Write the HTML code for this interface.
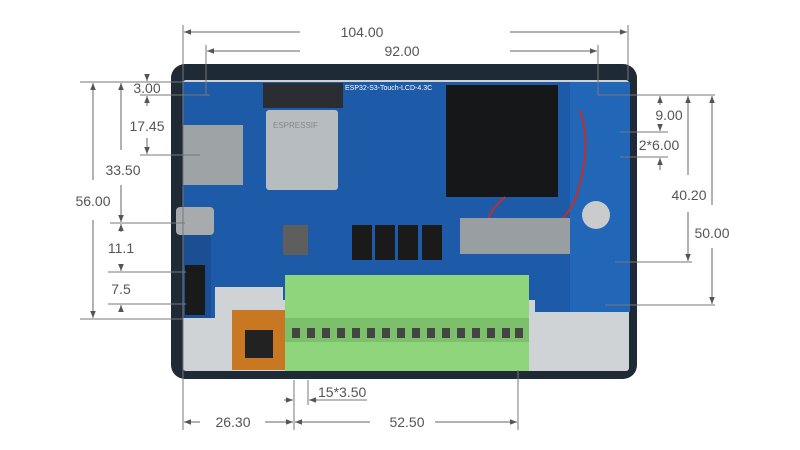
<!DOCTYPE html>
<html><head><style>
html,body{margin:0;padding:0;background:#fff;}
svg{display:block}
text{font-family:"Liberation Sans",sans-serif;fill:#555;font-size:14px}
</style></head><body>
<svg width="800" height="450" viewBox="0 0 800 450">
<defs>
<marker id="a" viewBox="0 0 10 10" refX="10" refY="5" markerWidth="7" markerHeight="7" orient="auto-start-reverse"><path d="M0,1 L10,5 L0,9z" fill="#555"/></marker>
</defs>
<rect x="171" y="64" width="466" height="315" rx="14" fill="#1e2a35"/>
<rect x="183" y="80" width="446" height="291" rx="3" fill="#cfd3d6"/>
<path d="M183,82 H630 V312 H535 V300 H283 V287 H215 V318 H183Z" fill="#1d5aa8"/>
<rect x="183" y="228" width="28" height="90" fill="#1a4f93"/>
<rect x="570" y="82" width="60" height="230" fill="#2266b8"/>
<rect x="263" y="83" width="80" height="25" fill="#2a2e33"/>
<rect x="266" y="110" width="72" height="80" rx="3" fill="#b6bcbf"/>
<text x="273" y="128" style="font-size:8px;fill:#888">ESPRESSIF</text>
<rect x="446" y="85" width="112" height="112" fill="#151719"/>
<path d="M505,197 C490,210 480,225 500,235 C530,250 560,230 575,200 C585,170 590,140 580,110" stroke="#c0302a" stroke-width="2" fill="none"/>
<rect x="183" y="125" width="60" height="60" fill="#9ea3a6"/>
<rect x="176" y="207" width="38" height="28" rx="4" fill="#a7abad"/>
<rect x="352" y="225" width="20" height="35" fill="#1a1a1a"/>
<rect x="375" y="225" width="20" height="35" fill="#1a1a1a"/>
<rect x="398" y="225" width="20" height="35" fill="#1a1a1a"/>
<rect x="422" y="225" width="20" height="35" fill="#1a1a1a"/>
<rect x="283" y="225" width="25" height="30" fill="#5e5e5e"/>
<rect x="460" y="218" width="110" height="36" fill="#999ea2"/>
<circle cx="596" cy="215" r="14" fill="#c9cbcc"/>
<rect x="185" y="265" width="20" height="50" fill="#1a1a1a"/>
<text x="345" y="90" style="font-size:7px;fill:#fff">ESP32-S3-Touch-LCD-4.3C</text>
<rect x="232" y="310" width="58" height="60" fill="#c87722"/>
<rect x="245" y="330" width="28" height="28" fill="#222"/>
<rect x="285" y="275" width="244" height="96" fill="#8ed57c"/>
<rect x="285" y="318" width="244" height="24" fill="#7cc06b"/>
<g fill="#444">
<rect x="292" y="328" width="8" height="10"/><rect x="307" y="328" width="8" height="10"/><rect x="322" y="328" width="8" height="10"/><rect x="337" y="328" width="8" height="10"/><rect x="352" y="328" width="8" height="10"/><rect x="367" y="328" width="8" height="10"/><rect x="382" y="328" width="8" height="10"/><rect x="397" y="328" width="8" height="10"/><rect x="412" y="328" width="8" height="10"/><rect x="427" y="328" width="8" height="10"/><rect x="442" y="328" width="8" height="10"/><rect x="457" y="328" width="8" height="10"/><rect x="472" y="328" width="8" height="10"/><rect x="487" y="328" width="8" height="10"/><rect x="502" y="328" width="8" height="10"/><rect x="515" y="328" width="8" height="10"/>
</g>
<g stroke="#777" stroke-width="1" fill="none">
<line x1="183" y1="25" x2="183" y2="430"/><line x1="628" y1="25" x2="628" y2="80"/>
<line x1="206" y1="45" x2="206" y2="95"/><line x1="598" y1="45" x2="598" y2="95"/>
<line x1="294" y1="380" x2="294" y2="430"/><line x1="308" y1="380" x2="308" y2="405"/><line x1="518" y1="370" x2="518" y2="430"/>
<line x1="80" y1="82" x2="183" y2="82"/><line x1="80" y1="319" x2="183" y2="319"/>
<line x1="140" y1="95" x2="210" y2="95"/><line x1="140" y1="155" x2="200" y2="155"/>
<line x1="110" y1="223" x2="185" y2="223"/><line x1="108" y1="272" x2="186" y2="272"/><line x1="108" y1="304" x2="186" y2="304"/>
<line x1="598" y1="95" x2="715" y2="95"/><line x1="620" y1="132" x2="668" y2="132"/><line x1="620" y1="157" x2="668" y2="157"/><line x1="615" y1="262" x2="692" y2="262"/><line x1="605" y1="305" x2="715" y2="305"/>
</g>
<g stroke="#666" stroke-width="1" fill="none" marker-end="url(#a)">
<line x1="300" y1="32" x2="184" y2="32"/><line x1="510" y1="32" x2="627" y2="32"/>
<line x1="300" y1="51" x2="207" y2="51"/><line x1="510" y1="51" x2="597" y2="51"/>
<line x1="93" y1="180" x2="93" y2="83"/><line x1="93" y1="220" x2="93" y2="318"/>
<line x1="121" y1="150" x2="121" y2="83"/><line x1="121" y1="185" x2="121" y2="222"/>
<line x1="147" y1="74" x2="147" y2="81"/><line x1="147" y1="106" x2="147" y2="96"/><line x1="147" y1="138" x2="147" y2="154"/>
<line x1="121" y1="232" x2="121" y2="224"/><line x1="121" y1="265" x2="121" y2="271"/>
<line x1="121" y1="312" x2="121" y2="305"/>
<line x1="660" y1="105" x2="660" y2="96"/><line x1="660" y1="125" x2="660" y2="131"/><line x1="660" y1="170" x2="660" y2="158"/>
<line x1="688" y1="175" x2="688" y2="96"/><line x1="688" y1="212" x2="688" y2="261"/>
<line x1="712" y1="205" x2="712" y2="96"/><line x1="712" y1="248" x2="712" y2="304"/>
<line x1="200" y1="422" x2="184" y2="422"/><line x1="265" y1="422" x2="293" y2="422"/>
<line x1="370" y1="422" x2="295" y2="422"/><line x1="435" y1="422" x2="517" y2="422"/>
<line x1="284" y1="400" x2="293" y2="400"/>
</g>
<line x1="318" y1="400" x2="367" y2="400" stroke="#777"/>
<line x1="309" y1="400" x2="318" y2="400" stroke="#666" marker-start="url(#a)"/>
<text x="362" y="37" text-anchor="middle">104.00</text>
<text x="402" y="56" text-anchor="middle">92.00</text>
<text x="147" y="93" text-anchor="middle">3.00</text>
<text x="147" y="131" text-anchor="middle">17.45</text>
<text x="123" y="175" text-anchor="middle">33.50</text>
<text x="93" y="206" text-anchor="middle">56.00</text>
<text x="121" y="253" text-anchor="middle">11.1</text>
<text x="121" y="294" text-anchor="middle">7.5</text>
<text x="669" y="120" text-anchor="middle">9.00</text>
<text x="659" y="150" text-anchor="middle">2*6.00</text>
<text x="689" y="200" text-anchor="middle">40.20</text>
<text x="712" y="238" text-anchor="middle">50.00</text>
<text x="318" y="397">15*3.50</text>
<text x="233" y="427" text-anchor="middle">26.30</text>
<text x="407" y="427" text-anchor="middle">52.50</text>
</svg>
</body></html>
